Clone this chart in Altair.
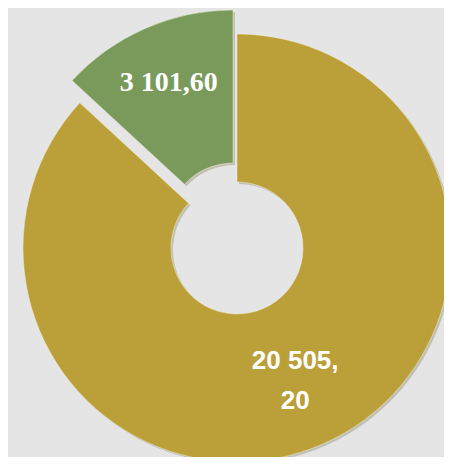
import altair as alt
import pandas as pd

# data
categories = ["Série 1", "Série 2"]
values = [20505.20, 3101.60]
labels = ["20 505,\n20", "3 101,60"]
order = [0, 1]

df = pd.DataFrame({"cat": categories, "value": values, "label": labels, "ord": order})

GOLD = "#BBA03A"
GREEN = "#7A9A5C"
BG = "#E5E5E5"

base = (
    alt.Chart(df)
    .transform_window(cum="sum(value)", sort=[alt.SortField("ord")], frame=[None, 0])
    .transform_joinaggregate(total="sum(value)")
    .transform_calculate(
        t0="(datum.cum - datum.value) / datum.total * 2 * PI",
        t1="datum.cum / datum.total * 2 * PI",
    )
    .transform_calculate(tm="(datum.t0 + datum.t1) / 2")
)

theta = alt.Theta("t0:Q", scale=None)
theta2 = alt.Theta2("t1:Q")

def slice_layers(idx, color, cx, cy, r0, r1, label_r, font, fsize, dy):
    b = base.transform_filter(f"datum.ord == {idx}")
    shadow = b.mark_arc(innerRadius=r0, outerRadius=r1, color="#8E8A6E", opacity=0.4).encode(
        theta=theta, theta2=theta2, x=alt.value(cx + 2), y=alt.value(cy + 2)
    )
    arc = b.mark_arc(
        innerRadius=r0, outerRadius=r1, color=color, stroke="#F4F0D8", strokeWidth=0.8, strokeOpacity=0.6
    ).encode(theta=theta, theta2=theta2, x=alt.value(cx), y=alt.value(cy))
    txt = b.mark_text(
        radius=label_r,
        font=font,
        fontSize=fsize,
        fontWeight="bold",
        color="white",
        align="center",
        baseline="middle",
        lineBreak="\n",
        lineHeight=40,
        dy=dy,
    ).encode(
        theta=alt.Theta("tm:Q", scale=None),
        text="label:N",
        x=alt.value(cx),
        y=alt.value(cy),
    )
    return [shadow, arc, txt]

layers = slice_layers(0, GOLD, 229, 239, 66, 214, 145, "Liberation Sans", 26, -20) + slice_layers(
    1, GREEN, 225, 220, 66, 219, 160, "Liberation Serif", 28, 1
)

chart = (
    alt.layer(*layers)
    .properties(
        width=436,
        height=449,
        background=BG,
        padding=0,
        autosize=alt.AutoSizeParams(type="fit", contains="padding"),
    )
    .configure_view(stroke=None)
)

chart.save("out.html", embed_options={"renderer": "svg", "actions": False})
